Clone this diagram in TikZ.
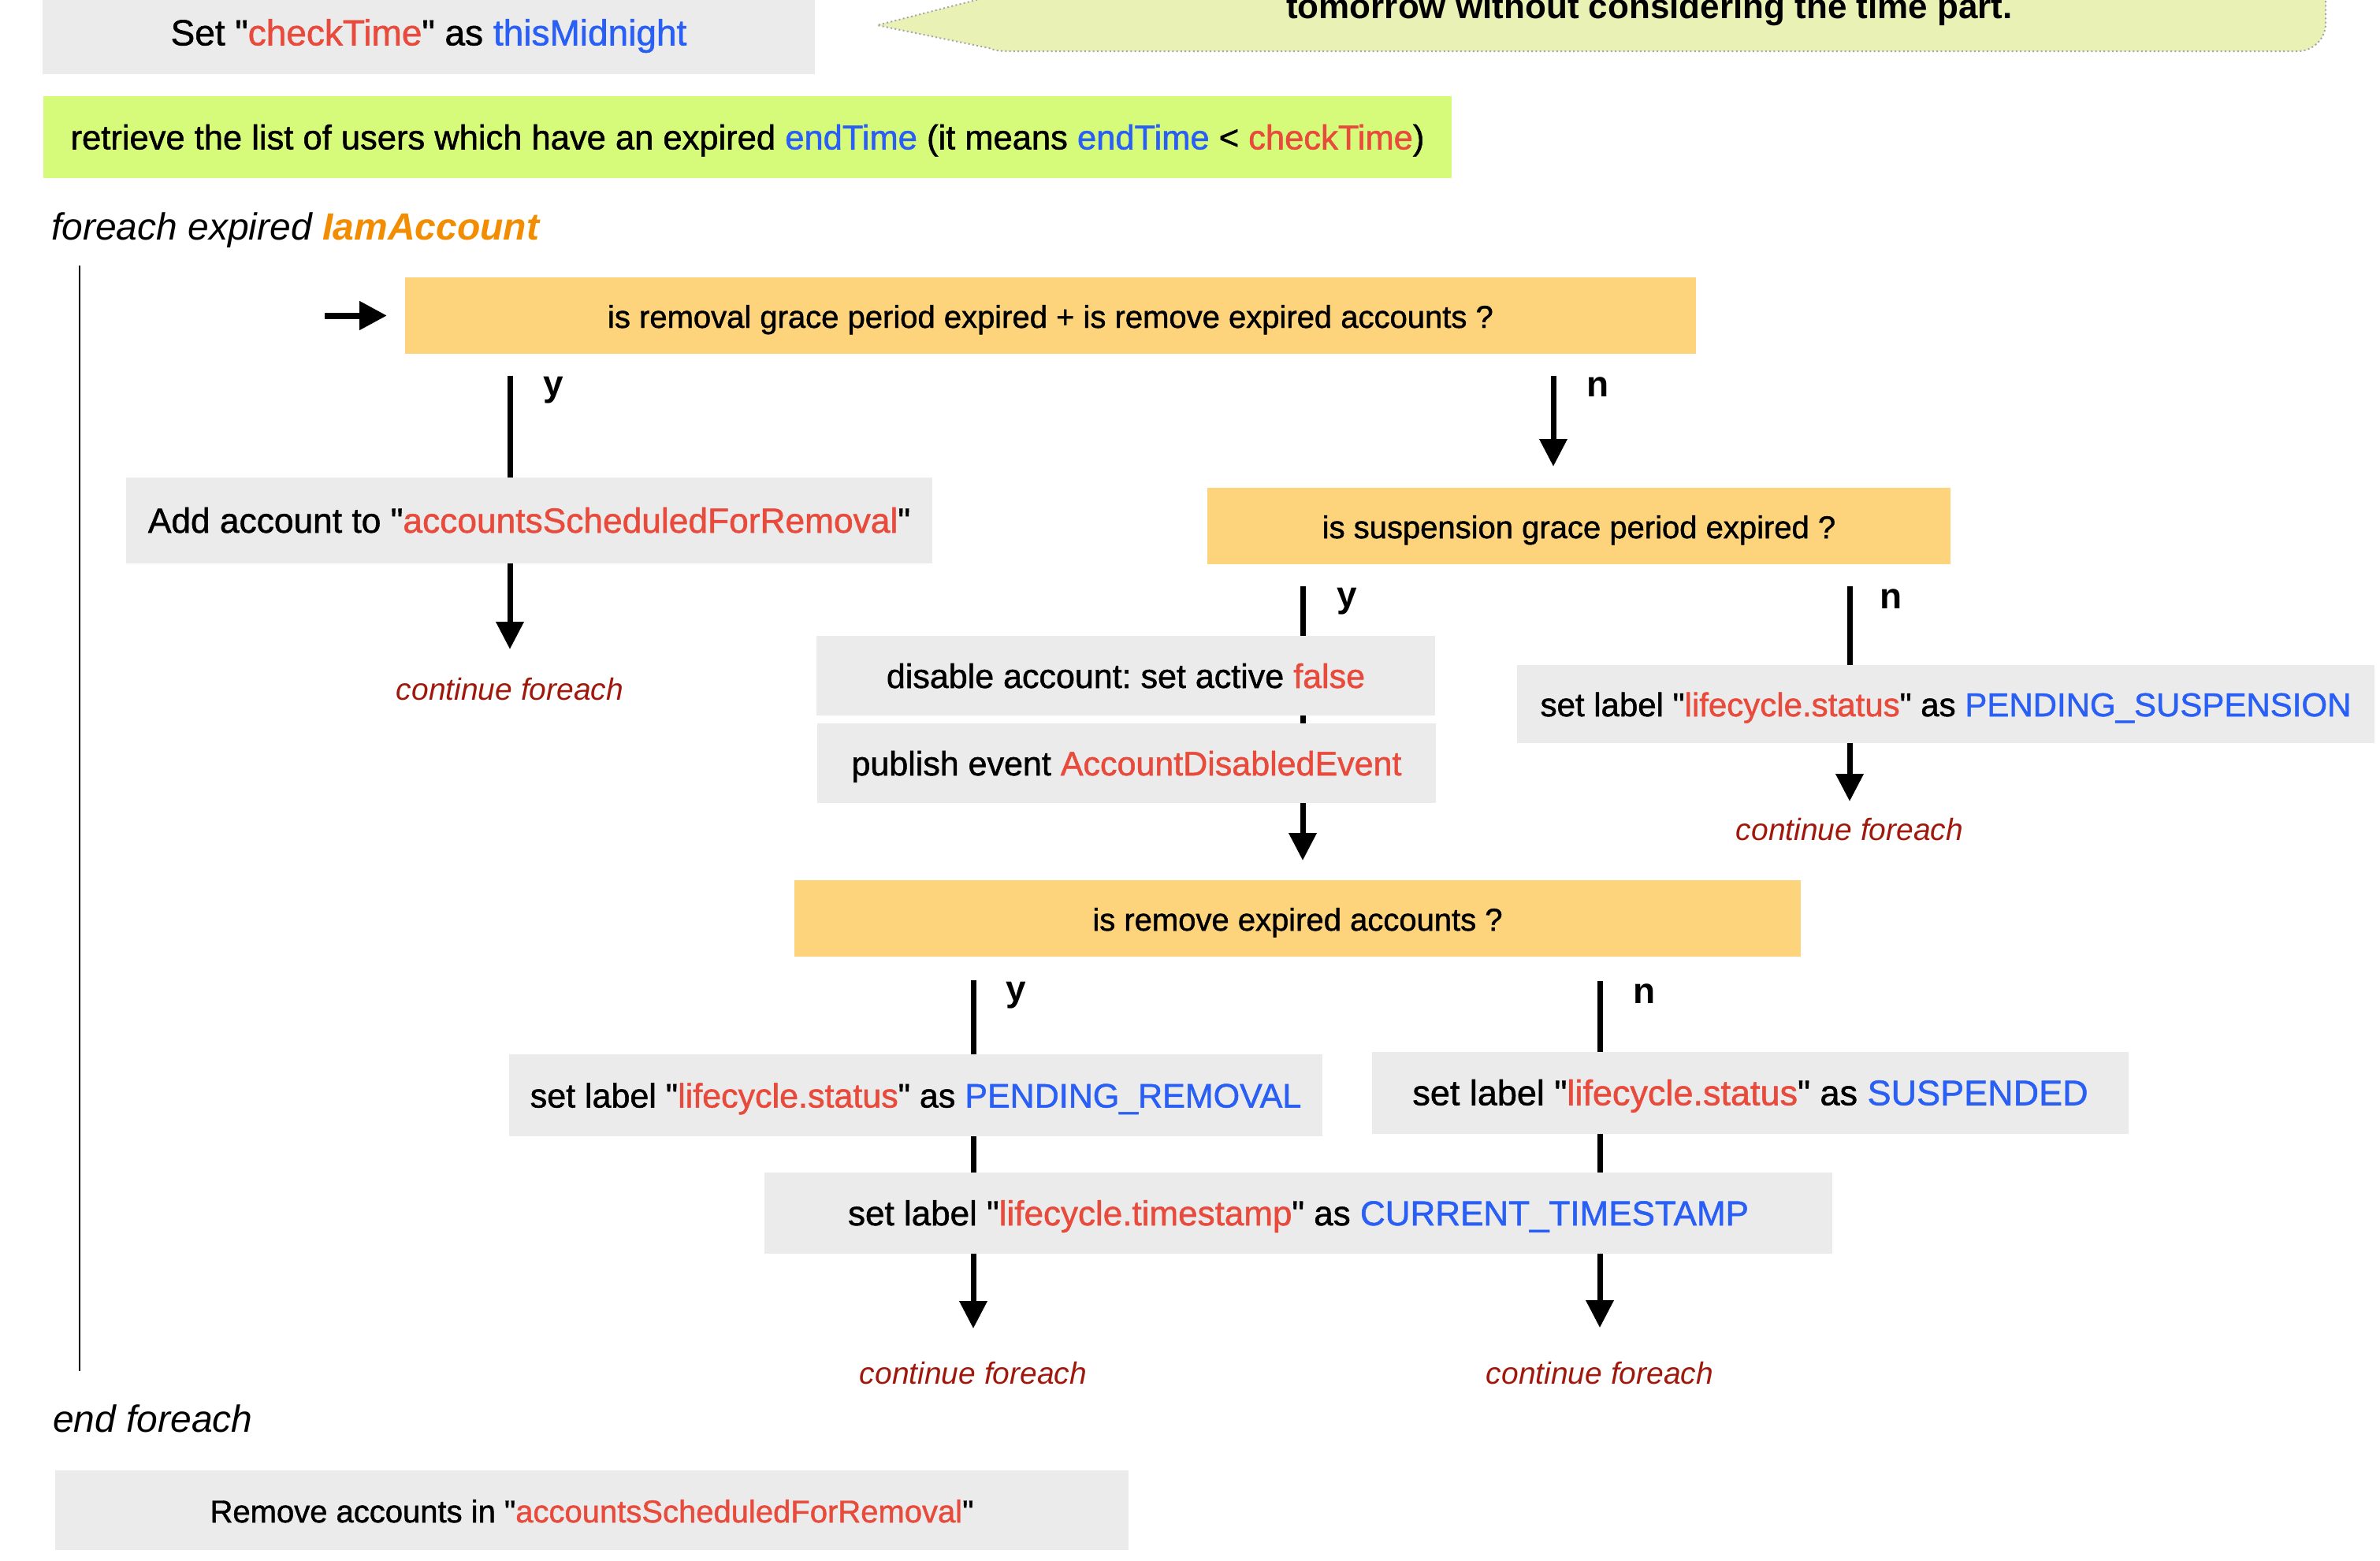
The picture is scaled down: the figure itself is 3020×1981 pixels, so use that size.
\documentclass[tikz,border=0pt]{standalone}
\usepackage{fontspec}
\setmainfont{Liberation Sans}
\newfontfamily\medfam{Liberation Sans}[FakeBold=1.2]
\usetikzlibrary{arrows.meta,calc}
\definecolor{boxgray}{HTML}{EBEBEB}
\definecolor{boxorange}{HTML}{FDD47C}
\definecolor{boxlime}{HTML}{D6FA7A}
\definecolor{notefill}{HTML}{E9F1B5}
\definecolor{noteline}{HTML}{A6A6A6}
\definecolor{tred}{HTML}{E84B3C}
\definecolor{tblue}{HTML}{2A5FF5}
\definecolor{torange}{HTML}{F28C00}
\definecolor{tdark}{HTML}{A0180B}
\newcommand{\myfs}[1]{\fontsize{#1}{#1}\selectfont}
\frenchspacing
\begin{document}
\begin{tikzpicture}[x=1pt,y=-1pt,
  box/.style={rectangle, inner sep=0pt, outer sep=0pt, align=center, text height=34pt, text depth=3pt},
  gbox/.style={box, fill=boxgray},
  obox/.style={box, fill=boxorange, font=\medfam\myfs{40}},
  flow/.style={line width=7pt},
  arr/.style={line width=7pt, -{Triangle[length=35pt,width=34pt]}},
  yn/.style={font=\bfseries\myfs{46}, inner sep=0pt, anchor=base west},
  cont/.style={font=\itshape\myfs{39}, text=tdark, inner sep=0pt, anchor=base},
  plain/.style={inner sep=0pt, anchor=base west},
]
\useasboundingbox (0,0) rectangle (3020,1981);
\clip (0,0) rectangle (3020,1981);

% callout note (top cut off)
\draw[fill=notefill, draw=noteline, line width=2pt, dash pattern=on 2pt off 3.3pt]
  (2000,-300) -- (1262,-300) -- (1262,-6) -- (1113,32) -- (1255,61)
  .. controls (1262,64) and (1267,65) .. (1282,65) -- (2916,65)
  .. controls (2935,65) and (2951,49) .. (2951,30) -- (2951,-300) -- cycle;
\node[font=\bfseries\myfs{44}, inner sep=0pt, anchor=base] (note) at (2093,23) {tomorrow without considering the time part.};

% boxes
\node[gbox, minimum width=980pt, minimum height=104pt, font=\medfam\myfs{46}] (setck) at (544,42)
  {Set "\textcolor{tred}{checkTime}" as \textcolor{tblue}{thisMidnight}};
\node[box, fill=boxlime, minimum width=1787pt, minimum height=104pt, font=\medfam\myfs{43.5}] (retr) at (948.5,174)
  {retrieve the list of users which have an expired \textcolor{tblue}{endTime} (it means \textcolor{tblue}{endTime} < \textcolor{tred}{checkTime})};
\node[plain, font=\itshape\myfs{48}] (fe) at (65,304) {foreach expired \textcolor{torange}{\textbf{IamAccount}}};

\node[obox, minimum width=1638pt, minimum height=97pt] (q1) at (1333,400.5)
  {is removal grace period expired + is remove expired accounts ?};
\node[gbox, minimum width=1023pt, minimum height=109pt, font=\medfam\myfs{44.3}] (add) at (671.5,660.5)
  {Add account to "\textcolor{tred}{accountsScheduledForRemoval}"};
\node[obox, minimum width=943pt, minimum height=97pt] (q2) at (2003.5,667.5)
  {is suspension grace period expired ?};
\node[gbox, minimum width=785pt, minimum height=101pt, font=\medfam\myfs{43}] (dis) at (1428.5,857.5)
  {disable account: set active \textcolor{tred}{false}};
\node[gbox, minimum width=785pt, minimum height=101pt, font=\medfam\myfs{43}] (pub) at (1429.5,968.5)
  {publish event \textcolor{tred}{AccountDisabledEvent}};
\node[gbox, minimum width=1088pt, minimum height=99pt, font=\medfam\myfs{42}] (ps) at (2469,893.5)
  {set label "\textcolor{tred}{lifecycle.status}" as \textcolor{tblue}{PENDING\_SUSPENSION}};
\node[obox, minimum width=1277pt, minimum height=97pt] (q3) at (1646.5,1165.5)
  {is remove expired accounts ?};
\node[gbox, minimum width=1032pt, minimum height=104pt, font=\medfam\myfs{43}] (pr) at (1162,1390)
  {set label "\textcolor{tred}{lifecycle.status}" as \textcolor{tblue}{PENDING\_REMOVAL}};
\node[gbox, minimum width=960pt, minimum height=104pt, font=\medfam\myfs{45}] (sus) at (2221,1387)
  {set label "\textcolor{tred}{lifecycle.status}" as \textcolor{tblue}{SUSPENDED}};
\node[gbox, minimum width=1355pt, minimum height=103pt, font=\medfam\myfs{44}] (ts) at (1647.5,1539.5)
  {set label "\textcolor{tred}{lifecycle.timestamp}" as \textcolor{tblue}{CURRENT\_TIMESTAMP}};
\node[plain, font=\itshape\myfs{48}] (ef) at (67,1817) {end foreach};
\node[gbox, minimum width=1362pt, minimum height=101pt, font=\medfam\myfs{40}] (rm) at (751,1916.5)
  {Remove accounts in "\textcolor{tred}{accountsScheduledForRemoval}"};

% continue labels
\node[cont] (c1) at (647,888) {continue foreach};
\node[cont] (c2) at (2347,1066) {continue foreach};
\node[cont] (c3) at (1235,1756) {continue foreach};
\node[cont] (c4) at (2030,1756) {continue foreach};

% y / n labels
\node[yn] (y1) at (689,502) {y};
\node[yn] (n1) at (2013,503) {n};
\node[yn] (y2) at (1696,770) {y};
\node[yn] (n2) at (2385,772) {n};
\node[yn] (y3) at (1276,1270) {y};
\node[yn] (n3) at (2072,1273) {n};

% columns and free ends
\coordinate (xA) at (647,0);
\coordinate (xB) at (1971,0);
\coordinate (xC) at (1653,0);
\coordinate (xD) at (2347,0);
\coordinate (xE) at (1235,0);
\coordinate (xF) at (2030,0);
\coordinate (t1) at (647,824);
\coordinate (t2) at (2347,1017);
\coordinate (t3) at (1235,1686);
\coordinate (t4) at (2030,1685);
\coordinate (entry) at (412,400.5);
\coordinate (lt) at (101,337);
\coordinate (lb) at (101,1740);

% loop bar
\draw[line width=2.5pt] (lt) -- (lb);
% entry arrow
\draw[line width=8pt, -{Triangle[length=35pt,width=35pt]}, shorten >=23pt] (entry) -- (q1.west);

% connectors
\draw[flow, shorten <=28pt] (q1.south -| xA) -- (add.north -| xA);
\draw[arr] (add.south -| xA) -- (t1);
\draw[arr, shorten <=28pt, shorten >=27pt] (q1.south -| xB) -- (q2.north -| xB);
\draw[flow, shorten <=28pt] (q2.south -| xC) -- (dis.north -| xC);
\draw[flow, shorten <=28pt] (q2.south -| xD) -- (ps.north -| xD);
\draw[flow] (dis.south -| xC) -- (pub.north -| xC);
\draw[arr, shorten >=25pt] (pub.south -| xC) -- (q3.north -| xC);
\draw[arr] (ps.south -| xD) -- (t2);
\draw[flow, shorten <=30pt] (q3.south -| xE) -- (pr.north -| xE);
\draw[flow, shorten <=31pt] (q3.south -| xF) -- (sus.north -| xF);
\draw[flow] (pr.south -| xE) -- (ts.north -| xE);
\draw[flow] (sus.south -| xF) -- (ts.north -| xF);
\draw[arr] (ts.south -| xE) -- (t3);
\draw[arr] (ts.south -| xF) -- (t4);
\end{tikzpicture}
\end{document}
